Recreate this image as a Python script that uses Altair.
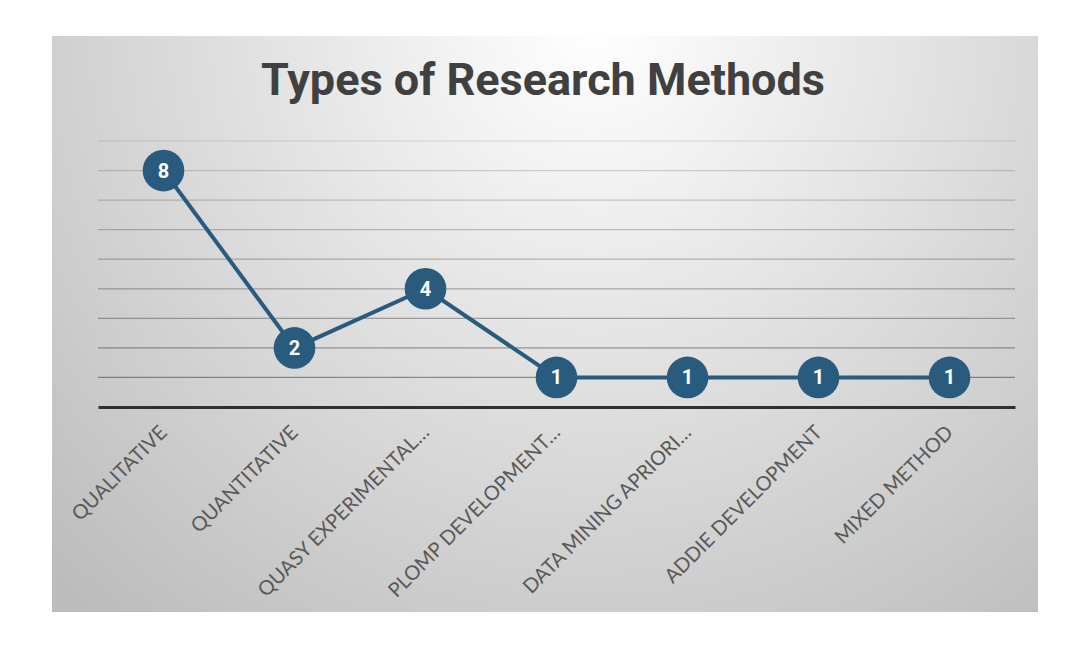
import altair as alt
import pandas as pd

categories = ["QUALITATIVE", "QUANTITATIVE", "QUASY EXPERIMENTAL…", "PLOMP DEVELOPMENT…",
              "DATA MINING APRIORI…", "ADDIE DEVELOPMENT", "MIXED METHOD"]
counts = [8, 2, 4, 1, 1, 1, 1]
grid_values = [1, 2, 3, 4, 5, 6, 7, 8, 9]
title_text = "Types of Research Methods"

df = pd.DataFrame({"method": categories, "count": counts})
grid_df = pd.DataFrame({"v": grid_values})

LINE = "#295b7e"
W, H = 917, 266

xenc = alt.X("method:N", sort=categories, scale=alt.Scale(type="point", padding=0.5),
             axis=alt.Axis(title=None, labelAngle=-45, labelAlign="right", labelBaseline="middle",
                           labelFont="Lato", labelFontSize=20, labelColor="#595959",
                           labelPadding=22, ticks=False, domain=True, domainColor="#303030",
                           domainWidth=3, grid=False, zindex=1, labelLimit=300))
yscale = alt.Scale(domain=[0, 9], nice=False, zero=True)

gradient = {
    "gradient": "radial",
    "x1": 0.55, "y1": 0.2, "r1": 0,
    "x2": 0.55, "y2": 0.2, "r2": 0.78,
    "stops": [{"offset": 0, "color": "#ffffff"}, {"offset": 1, "color": "#bcbcbc"}],
}

bg = alt.Chart(alt.Data(values=[{}])).mark_rect(fill=gradient).encode(
    x=alt.value(-46), x2=alt.value(940), y=alt.value(-105), y2=alt.value(471)
)

grid = alt.Chart(grid_df).mark_rule(color="#000000", strokeWidth=1.2).encode(
    y=alt.Y("v:Q", scale=yscale, axis=None),
    opacity=alt.Opacity("v:Q", scale=alt.Scale(domain=[1, 9], range=[0.38, 0.12]), legend=None),
)

title = alt.Chart(alt.Data(values=[{"t": title_text}])).mark_text(
    font="Roboto", fontSize=45, fontWeight="bold", color="#404040", baseline="alphabetic", align="center"
).encode(x=alt.value(445), y=alt.value(-46), text="t:N")

line = alt.Chart(df).mark_line(color=LINE, strokeWidth=4).encode(
    x=xenc, y=alt.Y("count:Q", scale=yscale, axis=None)
)
pts = alt.Chart(df).mark_circle(color=LINE, opacity=1, size=1735).encode(
    x=xenc, y=alt.Y("count:Q", scale=yscale, axis=None)
)
lbl = alt.Chart(df).mark_text(color="white", font="Roboto", fontWeight="bold", fontSize=20,
                              baseline="middle", dy=1).encode(
    x=xenc, y=alt.Y("count:Q", scale=yscale, axis=None), text="count:Q"
)

chart = alt.layer(bg, grid, title, line, pts, lbl).properties(
    width=W, height=H,
    autosize=alt.AutoSizeParams(type="none"),
    padding={"left": 90, "top": 133, "right": 59, "bottom": 231},
    background="white",
).configure_view(stroke=None)

chart.save("out.html", embed_options={"renderer": "svg", "actions": False})
